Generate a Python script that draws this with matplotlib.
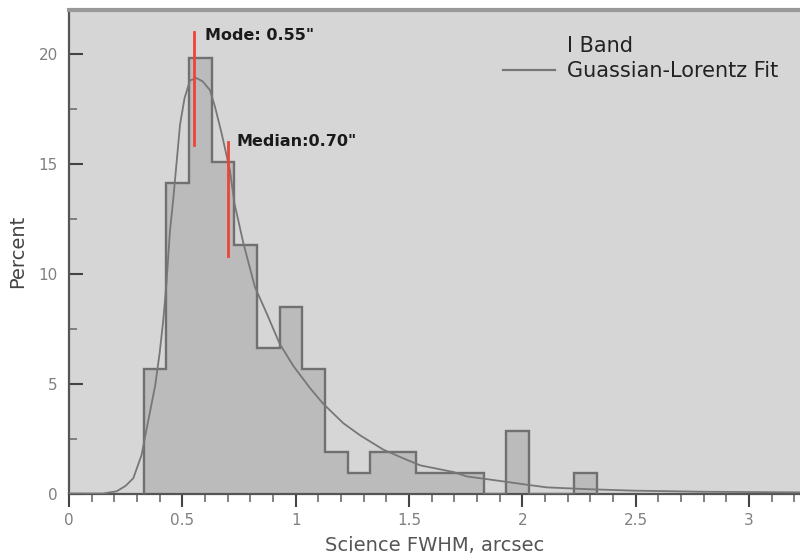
import matplotlib
matplotlib.use('Agg')
import matplotlib.pyplot as plt
from matplotlib.lines import Line2D
from matplotlib.patches import Patch
from matplotlib.ticker import MultipleLocator

# I-band seeing histogram (percent of frames per 0.1" bin)
bin_edges = [0.33, 0.43, 0.53, 0.63, 0.73, 0.83, 0.93, 1.03, 1.13, 1.23, 1.33,
             1.43, 1.53, 1.63, 1.73, 1.83, 1.93, 2.03, 2.13, 2.23, 2.33]
percent = [5.66, 14.15, 19.81, 15.09, 11.32, 6.60, 8.49, 5.66, 1.89, 0.94,
           1.89, 1.89, 0.94, 0.94, 0.94, 0.00, 2.83, 0.00, 0.00, 0.94]

# Gaussian-Lorentz fit, sampled
fit_x = [0.00, 0.15, 0.21, 0.25, 0.284, 0.32, 0.357, 0.38, 0.40, 0.416, 0.431,
         0.445, 0.46, 0.49, 0.51, 0.534, 0.563, 0.59, 0.622, 0.644, 0.673, 0.71,
         0.73, 0.769, 0.82, 0.872, 0.93, 0.99, 1.063, 1.12, 1.21, 1.284, 1.386,
         1.475, 1.55, 1.695, 1.754, 1.93, 2.02, 2.107, 2.28, 2.49, 2.8, 3.25]
fit_y = [0.00, 0.00, 0.10, 0.35, 0.70, 1.75, 3.70, 4.90, 6.40, 7.90, 9.70,
         11.9, 13.4, 16.8, 18.0, 18.8, 18.9, 18.75, 18.35, 17.6, 16.4, 14.7,
         13.2, 11.4, 9.4, 8.2, 6.8, 5.8, 4.8, 4.1, 3.2, 2.65, 2.0,
         1.6, 1.28, 0.98, 0.78, 0.53, 0.40, 0.28, 0.20, 0.13, 0.08, 0.05]

mode_val = 0.55
median_val = 0.70

fig = plt.figure(figsize=(8, 5.56), dpi=100)
ax = fig.add_axes([0.08625, 0.1124, 0.91375, 0.8696])
ax.set_facecolor('#d6d6d6')

ax.stairs(percent, bin_edges, fill=True, color='#bbbbbb', zorder=2)
ax.stairs(percent, bin_edges, color='#707070', lw=1.7, zorder=3)
ax.plot(fit_x, fit_y, color='#777777', lw=1.3, zorder=4)

# mode / median markers
ax.plot([mode_val, mode_val], [15.85, 21.0], color='#ee4436', lw=2, zorder=5)
ax.plot([median_val, median_val], [10.8, 16.0], color='#ee4436', lw=2, zorder=5)
ax.text(0.60, 20.85, 'Mode: %.2f"' % mode_val, fontsize=11.5, fontweight='bold',
        color='#1a1a1a', va='center', ha='left')
ax.text(0.741, 16.0, 'Median:%.2f"' % median_val, fontsize=11.5, fontweight='bold',
        color='#1a1a1a', va='center', ha='left')

ax.set_xlim(0, 3.225)
ax.set_ylim(0, 22)

ax.xaxis.set_major_locator(MultipleLocator(0.5))
ax.xaxis.set_minor_locator(MultipleLocator(0.1))
ax.yaxis.set_major_locator(MultipleLocator(5))
ax.yaxis.set_minor_locator(MultipleLocator(2.5))
ax.set_xticks([0, 0.5, 1, 1.5, 2, 2.5, 3])
ax.set_xticklabels(['0', '0.5', '1', '1.5', '2', '2.5', '3'])

ax.tick_params(axis='x', which='major', direction='out', length=9, width=1.5,
               color='#444444', labelsize=11, labelcolor='#808080', pad=5)
ax.tick_params(axis='x', which='minor', direction='out', length=6, width=1.3,
               color='#777777')
ax.tick_params(axis='y', which='major', direction='in', length=10, width=1.5,
               color='#444444', labelsize=11, labelcolor='#808080', pad=8)
ax.tick_params(axis='y', which='minor', direction='in', length=6, width=1.3,
               color='#777777')

for side in ['left', 'bottom']:
    ax.spines[side].set_color('#555555')
    ax.spines[side].set_linewidth(1.6)
ax.spines['top'].set_color('#999999')
ax.spines['top'].set_linewidth(3)
ax.spines['right'].set_visible(False)

ax.set_xlabel('Science FWHM, arcsec', fontsize=14, color='#555555', labelpad=6)
ax.set_ylabel('Percent', fontsize=14, color='#444444', labelpad=8)

handles = [Patch(facecolor='none', edgecolor='none'),
           Line2D([], [], color='#777777', lw=1.6)]
ax.legend(handles, ['I Band', 'Guassian-Lorentz Fit'], loc='upper left',
          bbox_to_anchor=(503 / 800, 1 - 36 / 556), bbox_transform=fig.transFigure,
          frameon=False, fontsize=15, handlelength=2.5, handletextpad=0.58,
          labelspacing=0.25, borderpad=0, borderaxespad=0, labelcolor='#222222')

plt.savefig('out.png', dpi=100)
